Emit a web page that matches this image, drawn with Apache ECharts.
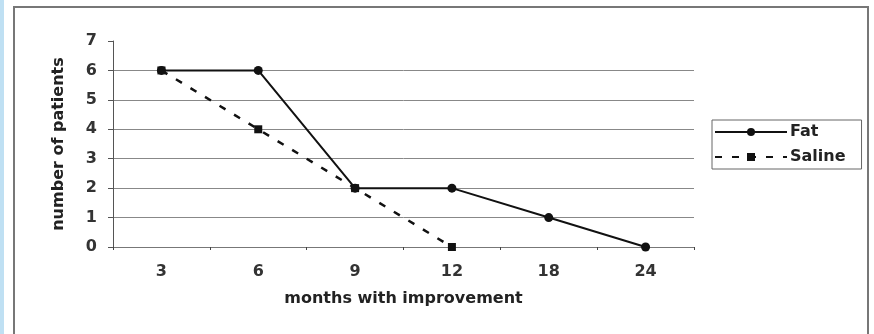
<!DOCTYPE html>
<html>
<head>
<meta charset="utf-8">
<script src="https://cdn.jsdelivr.net/npm/echarts@6/dist/echarts.min.js"></script>
<style>
  html, body { margin: 0; padding: 0; background: #fff; }
  #chart { width: 874px; height: 334px; }
</style>
</head>
<body>
<div id="chart"></div>
<script>
// months on the x axis
const months = ['3', '6', '9', '12', '18', '24'];
// number of patients still improved
const fat = [6, 6, 2, 2, 1, 0];
const saline = [6, 4, 2, 0, null, null];

const chart = echarts.init(document.getElementById('chart'));
const font = 'DejaVu Sans, Verdana, sans-serif';
// gridlines for 0..6, none at the top value 7
const gridColors = ['#777', '#888', '#888', '#888', '#888', '#888', '#888', 'rgba(0,0,0,0)'];

const option = {
  backgroundColor: '#fff',
  animation: false,
  graphic: [
    { type: 'rect', shape: { x: 0, y: 0, width: 4, height: 334 }, style: { fill: '#bfe0f3' } },
    { type: 'rect', shape: { x: 14, y: 7, width: 854, height: 340 },
      style: { fill: 'none', stroke: '#777', lineWidth: 2 } }
  ],
  grid: { left: 113, right: 180, top: 41, bottom: 87 },
  legend: {
    orient: 'vertical',
    left: 712, top: 120,
    itemWidth: 72, itemHeight: 10, itemGap: 9,
    padding: [4, 16, 4, 2],
    borderColor: '#666', borderWidth: 1,
    textStyle: { fontFamily: font, fontSize: 16, fontWeight: 'bold', color: '#222', padding: [0, 0, 0, -2] },
    data: ['Fat', 'Saline']
  },
  xAxis: {
    type: 'category',
    data: months,
    boundaryGap: true,
    name: 'months with improvement',
    nameLocation: 'middle',
    nameGap: 44,
    nameTextStyle: { fontFamily: font, fontSize: 16, fontWeight: 'bold', color: '#222' },
    axisLine: { show: true, lineStyle: { color: '#777', width: 1 } },
    axisTick: { show: true, length: 3, lineStyle: { color: '#444' } },
    axisLabel: { fontFamily: font, fontSize: 16, fontWeight: 'bold', color: '#333', margin: 17 }
  },
  yAxis: {
    type: 'value',
    min: 0, max: 7, interval: 1,
    name: 'number of patients',
    nameLocation: 'middle',
    nameRotate: 90,
    nameGap: 46,
    nameTextStyle: { fontFamily: font, fontSize: 16, fontWeight: 'bold', color: '#222' },
    axisLine: { show: true, lineStyle: { color: '#555', width: 1 } },
    axisTick: { show: true, length: 5, lineStyle: { color: '#555' } },
    axisLabel: { fontFamily: font, fontSize: 16, fontWeight: 'bold', color: '#333', margin: 16 },
    splitLine: { show: true, lineStyle: { color: gridColors, width: 1 } }
  },
  series: [
    {
      name: 'Fat', type: 'line', data: fat, z: 2,
      symbol: 'circle', symbolSize: 9,
      lineStyle: { color: '#111', width: 2 },
      itemStyle: { color: '#111' }
    },
    {
      name: 'Saline', type: 'line', data: saline, z: 3,
      symbol: 'rect', symbolSize: 8,
      connectNulls: false,
      lineStyle: { color: '#111', width: 2.5, type: [7, 10] },
      itemStyle: { color: '#111' }
    }
  ]
};

chart.setOption(option);
</script>
</body>
</html>
